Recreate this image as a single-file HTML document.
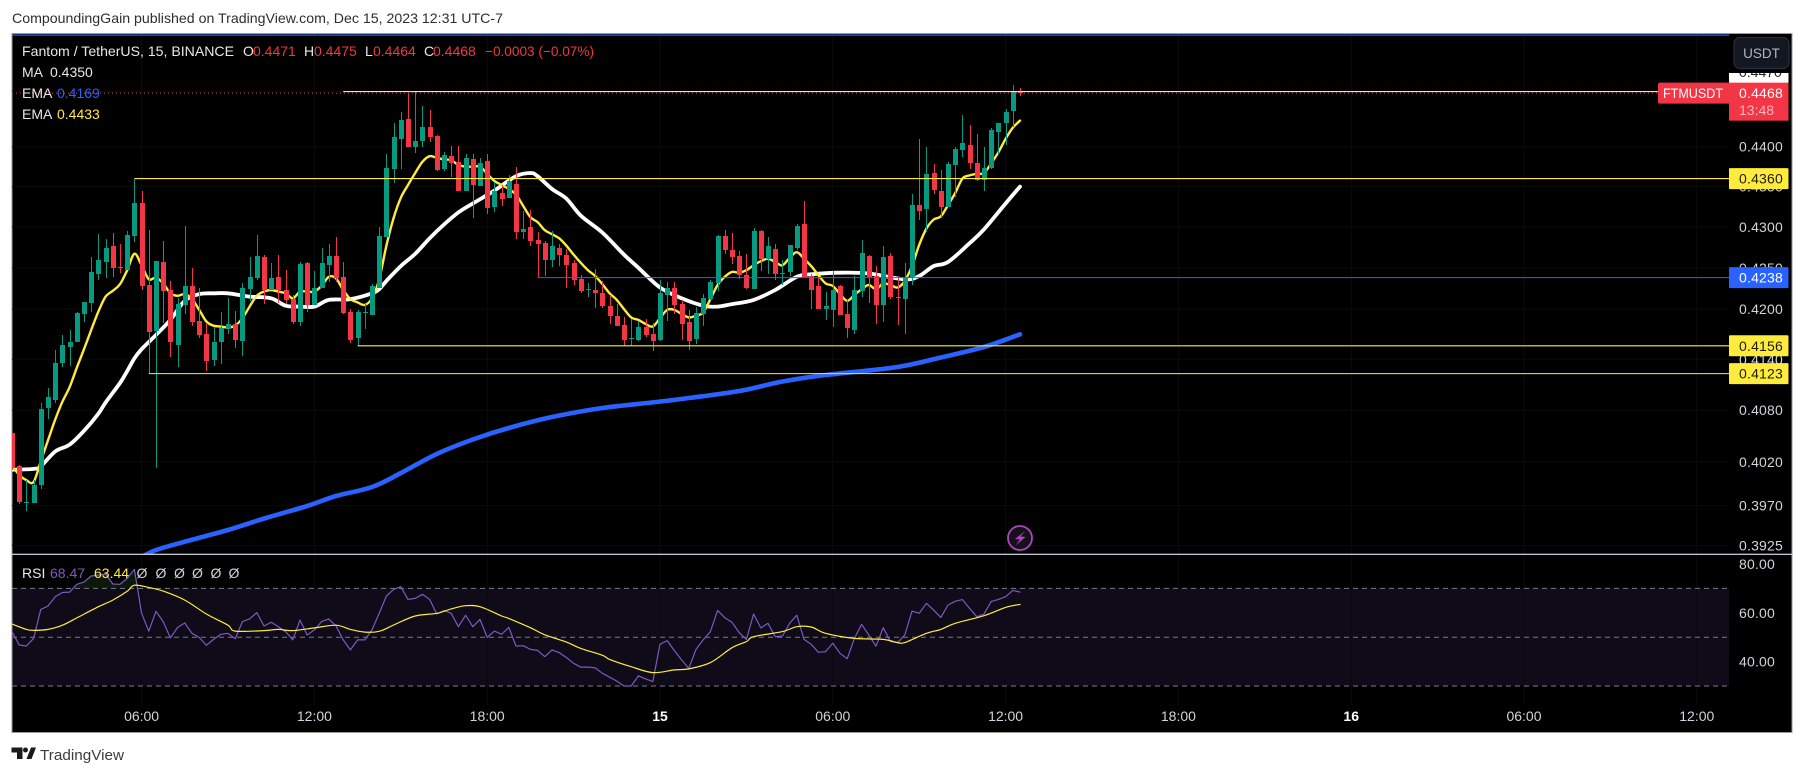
<!DOCTYPE html>
<html lang="en">
<head>
<meta charset="utf-8">
<title>FTMUSDT chart</title>
<style>
html,body{margin:0;padding:0;background:#fff;width:1805px;height:775px;overflow:hidden}
svg{display:block}
text{font-family:"Liberation Sans","DejaVu Sans",sans-serif;font-size:14px}
</style>
</head>
<body>
<svg id="chart" xmlns="http://www.w3.org/2000/svg" width="1805" height="775" viewBox="0 0 1805 775">
  <defs>
    <clipPath id="main-clip"><rect x="12" y="36" width="1717" height="518"/></clipPath>
    <clipPath id="rsi-clip"><rect x="12" y="555" width="1717" height="150"/></clipPath>
    <clipPath id="rsi-overbought-clip"><rect x="12" y="555" width="1717" height="33"/></clipPath>
    <clipPath id="top-tick-clip"><rect x="1729" y="73" width="60" height="10"/></clipPath>
  </defs>
  <rect x="0" y="0" width="1805" height="775" fill="#ffffff"/>
  <text x="12" y="23" fill="#2e2e2e" font-size="14" textLength="491" lengthAdjust="spacingAndGlyphs" style="font-size:14px">CompoundingGain published on TradingView.com, Dec 15, 2023 12:31 UTC-7</text>
  <rect x="12" y="33.5" width="1780" height="699" fill="#000000" stroke="#9a9a9a" stroke-width="1"/>
  <rect x="12.5" y="588" width="1716.5" height="98" fill="#0f0b18"/>
  <g id="grid"></g>
  <g id="main-pane" clip-path="url(#main-clip)"></g>
  <g id="rsi-pane" clip-path="url(#rsi-clip)"></g>
  <rect x="12.5" y="34.5" width="1716.5" height="1.2" fill="#2962ff"/>
  <rect x="12" y="553.7" width="1780" height="1.2" fill="#d8dae0"/>
  <g id="axis-labels"></g>

  <g>
    <text x="22" y="56" fill="#e8e8e8" textLength="212" lengthAdjust="spacingAndGlyphs">Fantom / TetherUS, 15, BINANCE</text>
    <text x="243" y="56" fill="#e8e8e8">O</text>
    <text x="253" y="56" fill="#f23645">0.4471</text>
    <text x="304" y="56" fill="#e8e8e8">H</text>
    <text x="314" y="56" fill="#f23645">0.4475</text>
    <text x="365" y="56" fill="#e8e8e8">L</text>
    <text x="373" y="56" fill="#f23645">0.4464</text>
    <text x="424" y="56" fill="#e8e8e8">C</text>
    <text x="433" y="56" fill="#f23645">0.4468</text>
    <text x="485" y="56" fill="#f23645" textLength="109" lengthAdjust="spacingAndGlyphs">−0.0003 (−0.07%)</text>
    <text x="22" y="77" fill="#e8e8e8">MA</text>
    <text x="50" y="77" fill="#e8e8e8">0.4350</text>
    <text x="22" y="98" fill="#e8e8e8">EMA</text>
    <text x="57" y="98" fill="#2962ff">0.4169</text>
    <text x="22" y="119" fill="#e8e8e8">EMA</text>
    <text x="57" y="119" fill="#ffeb3b">0.4433</text>
  </g>

  <g>
    <text x="22" y="578" fill="#e8e8e8">RSI</text>
    <text x="50" y="578" fill="#7e57c2">68.47</text>
    <text x="94" y="578" fill="#ffeb3b">63.44</text>
    <text x="142" y="578" fill="#d1d4dc" text-anchor="middle">Ø</text>
    <text x="161" y="578" fill="#d1d4dc" text-anchor="middle">Ø</text>
    <text x="179.5" y="578" fill="#d1d4dc" text-anchor="middle">Ø</text>
    <text x="197.5" y="578" fill="#d1d4dc" text-anchor="middle">Ø</text>
    <text x="216" y="578" fill="#d1d4dc" text-anchor="middle">Ø</text>
    <text x="234" y="578" fill="#d1d4dc" text-anchor="middle">Ø</text>
  </g>

  <g>
    <rect x="1734" y="37.5" width="55" height="31" rx="6" fill="#131722" stroke="#2a2e39" stroke-width="1.2"/>
    <text x="1761.5" y="58" fill="#b2b5be" text-anchor="middle" style="font-size:13.5px">USDT</text>
  </g>

  <g>
    <circle cx="1020" cy="538" r="12" fill="#15101c" stroke="#ab47bc" stroke-width="1.8"/>
    <path d="M1025 531 L1015 539 L1020 539.5 L1015.5 545.5 L1025.5 537 L1020.5 536.5 Z" fill="#ab47bc"/>
  </g>

  <g>
    <path d="M11.5 747.5 H22.5 V759 H17 V752.5 H11.5 Z M26.5 759 L31 747.5 H36 L31.5 759 Z" fill="#1a1a1a"/>
    <circle cx="25.5" cy="750" r="2.5" fill="#1a1a1a"/>
    <text x="40" y="760" fill="#3c3c3c" textLength="84" lengthAdjust="spacingAndGlyphs" style="font-size:15px">TradingView</text>
  </g>
</svg>

<script>
const opens=[0.4054,0.4015,0.3973,0.3973,0.3993,0.4083,0.4092,0.4136,0.4155,0.4160,0.4194,0.4207,0.4242,0.4257,0.4276,0.4251,0.4247,0.4289,0.4330,0.4229,0.4174,0.4257,0.4223,0.4157,0.4205,0.4228,0.4186,0.4170,0.4139,0.4161,0.4177,0.4182,0.4162,0.4224,0.4237,0.4263,0.4223,0.4239,0.4223,0.4212,0.4184,0.4256,0.4205,0.4226,0.4253,0.4264,0.4239,0.4196,0.4165,0.4195,0.4193,0.4226,0.4288,0.4372,0.4410,0.4435,0.4399,0.4407,0.4425,0.4414,0.4372,0.4388,0.4381,0.4344,0.4384,0.4351,0.4382,0.4325,0.4342,0.4336,0.4353,0.4294,0.4300,0.4284,0.4280,0.4260,0.4274,0.4266,0.4256,0.4236,0.4223,0.4223,0.4219,0.4204,0.4192,0.4181,0.4164,0.4163,0.4179,0.4170,0.4163,0.4217,0.4226,0.4206,0.4184,0.4164,0.4194,0.4212,0.4231,0.4289,0.4272,0.4264,0.4241,0.4224,0.4295,0.4261,0.4273,0.4243,0.4245,0.4274,0.4303,0.4240,0.4228,0.4200,0.4199,0.4228,0.4194,0.4175,0.4222,0.4264,0.4240,0.4205,0.4264,0.4215,0.4212,0.4239,0.4327,0.4322,0.4367,0.4345,0.4325,0.4377,0.4396,0.4402,0.4379,0.4358,0.4373,0.4419,0.4430,0.4445,0.4471];
const highs=[0.4054,0.4016,0.3999,0.3999,0.4089,0.4106,0.4151,0.4169,0.4175,0.4196,0.4209,0.4263,0.4291,0.4285,0.4292,0.4279,0.4295,0.4360,0.4345,0.4296,0.4258,0.4283,0.4234,0.4213,0.4301,0.4250,0.4225,0.4182,0.4178,0.4196,0.4213,0.4198,0.4231,0.4263,0.4290,0.4266,0.4256,0.4266,0.4247,0.4217,0.4257,0.4257,0.4246,0.4274,0.4279,0.4288,0.4257,0.4200,0.4199,0.4207,0.4230,0.4300,0.4391,0.4430,0.4444,0.4468,0.4471,0.4451,0.4446,0.4415,0.4393,0.4401,0.4401,0.4391,0.4391,0.4386,0.4391,0.4356,0.4352,0.4365,0.4375,0.4320,0.4321,0.4294,0.4283,0.4295,0.4279,0.4273,0.4260,0.4241,0.4231,0.4248,0.4234,0.4217,0.4206,0.4191,0.4188,0.4186,0.4188,0.4183,0.4235,0.4233,0.4233,0.4211,0.4199,0.4203,0.4218,0.4235,0.4290,0.4296,0.4292,0.4271,0.4267,0.4299,0.4296,0.4288,0.4279,0.4260,0.4278,0.4303,0.4332,0.4243,0.4239,0.4220,0.4246,0.4229,0.4211,0.4240,0.4284,0.4266,0.4252,0.4276,0.4268,0.4239,0.4256,0.4341,0.4410,0.4400,0.4378,0.4371,0.4381,0.4400,0.4440,0.4428,0.4416,0.4400,0.4424,0.4430,0.4448,0.4479,0.4475];
const lows=[0.4011,0.3972,0.3964,0.3973,0.3989,0.4070,0.4089,0.4131,0.4132,0.4160,0.4185,0.4196,0.4235,0.4238,0.4239,0.4244,0.4247,0.4281,0.4223,0.4123,0.4013,0.4183,0.4143,0.4131,0.4194,0.4180,0.4165,0.4126,0.4132,0.4134,0.4170,0.4153,0.4144,0.4210,0.4235,0.4206,0.4223,0.4207,0.4206,0.4182,0.4180,0.4196,0.4205,0.4226,0.4233,0.4233,0.4194,0.4159,0.4156,0.4176,0.4193,0.4226,0.4288,0.4354,0.4372,0.4399,0.4392,0.4399,0.4406,0.4369,0.4369,0.4362,0.4345,0.4344,0.4311,0.4351,0.4316,0.4319,0.4326,0.4336,0.4285,0.4285,0.4276,0.4237,0.4240,0.4251,0.4252,0.4225,0.4229,0.4219,0.4215,0.4201,0.4201,0.4182,0.4180,0.4156,0.4156,0.4162,0.4167,0.4150,0.4162,0.4186,0.4194,0.4163,0.4151,0.4158,0.4180,0.4211,0.4222,0.4267,0.4255,0.4236,0.4224,0.4224,0.4246,0.4242,0.4235,0.4229,0.4240,0.4272,0.4239,0.4200,0.4200,0.4187,0.4179,0.4193,0.4165,0.4170,0.4215,0.4207,0.4182,0.4185,0.4212,0.4181,0.4170,0.4229,0.4309,0.4294,0.4341,0.4311,0.4325,0.4337,0.4387,0.4372,0.4357,0.4345,0.4372,0.4391,0.4402,0.4425,0.4464];
const closes=[0.4013,0.3974,0.3974,0.3994,0.4082,0.4096,0.4136,0.4157,0.4161,0.4195,0.4209,0.4245,0.4260,0.4274,0.4250,0.4250,0.4290,0.4330,0.4228,0.4172,0.4258,0.4222,0.4160,0.4206,0.4228,0.4185,0.4169,0.4138,0.4161,0.4177,0.4182,0.4163,0.4226,0.4239,0.4264,0.4223,0.4237,0.4223,0.4211,0.4184,0.4255,0.4205,0.4226,0.4256,0.4264,0.4237,0.4195,0.4163,0.4196,0.4196,0.4228,0.4289,0.4373,0.4412,0.4434,0.4399,0.4407,0.4425,0.4412,0.4371,0.4390,0.4379,0.4345,0.4386,0.4352,0.4379,0.4323,0.4344,0.4334,0.4357,0.4294,0.4297,0.4283,0.4279,0.4260,0.4276,0.4266,0.4253,0.4235,0.4222,0.4224,0.4219,0.4204,0.4192,0.4180,0.4163,0.4165,0.4179,0.4169,0.4162,0.4219,0.4226,0.4205,0.4182,0.4162,0.4195,0.4213,0.4233,0.4289,0.4272,0.4263,0.4241,0.4226,0.4295,0.4261,0.4276,0.4242,0.4244,0.4278,0.4301,0.4239,0.4223,0.4200,0.4204,0.4223,0.4193,0.4177,0.4223,0.4268,0.4239,0.4205,0.4263,0.4215,0.4214,0.4239,0.4327,0.4320,0.4366,0.4346,0.4325,0.4378,0.4397,0.4405,0.4379,0.4358,0.4373,0.4421,0.4430,0.4444,0.4471,0.4468];
const emaFast=[0.4016,0.4005,0.3999,0.3997,0.4021,0.4045,0.4069,0.4090,0.4107,0.4130,0.4152,0.4175,0.4197,0.4215,0.4222,0.4230,0.4247,0.4267,0.4253,0.4236,0.4238,0.4231,0.4219,0.4216,0.4218,0.4212,0.4199,0.4185,0.4180,0.4179,0.4178,0.4180,0.4189,0.4203,0.4216,0.4221,0.4223,0.4221,0.4219,0.4213,0.4221,0.4221,0.4221,0.4228,0.4239,0.4237,0.4223,0.4212,0.4208,0.4205,0.4213,0.4236,0.4277,0.4311,0.4336,0.4352,0.4367,0.4381,0.4388,0.4386,0.4384,0.4383,0.4377,0.4375,0.4375,0.4375,0.4366,0.4357,0.4352,0.4347,0.4340,0.4326,0.4312,0.4306,0.4296,0.4291,0.4286,0.4277,0.4266,0.4256,0.4247,0.4240,0.4230,0.4219,0.4211,0.4200,0.4190,0.4187,0.4182,0.4179,0.4189,0.4199,0.4199,0.4194,0.4190,0.4192,0.4196,0.4212,0.4229,0.4239,0.4245,0.4244,0.4247,0.4253,0.4258,0.4261,0.4257,0.4253,0.4262,0.4269,0.4261,0.4252,0.4241,0.4231,0.4228,0.4218,0.4210,0.4217,0.4224,0.4229,0.4224,0.4231,0.4229,0.4226,0.4234,0.4252,0.4278,0.4298,0.4309,0.4313,0.4327,0.4342,0.4360,0.4364,0.4366,0.4367,0.4379,0.4393,0.4410,0.4424,0.4433];
const maBars=[0,3,4,6,8,10,12,13,15,16,17,18,20,22,24,26,28,30,33,36,38,40,42,44,47,50,51,52,54,56,58,60,62,64,67,70,72,73,75,77,79,82,85,87,90,93,96,98,100,103,106,109,111,115,119,124,126,128,130,133,135,138,140];
const maValues=[0.4011,0.4012,0.4015,0.4032,0.4040,0.4056,0.4076,0.4089,0.4112,0.4126,0.4141,0.4152,0.4169,0.4187,0.4210,0.4218,0.4219,0.4219,0.4215,0.4213,0.4204,0.4203,0.4203,0.4211,0.4212,0.4219,0.4224,0.4234,0.4252,0.4267,0.4286,0.4303,0.4318,0.4329,0.4345,0.4363,0.4367,0.4363,0.4347,0.4335,0.4314,0.4293,0.4266,0.4250,0.4226,0.4213,0.4204,0.4203,0.4206,0.4211,0.4223,0.4239,0.4242,0.4244,0.4243,0.4236,0.4240,0.4252,0.4257,0.4280,0.4297,0.4329,0.4350];
const emaSlowBars=[18,20,24,30,35,41,45,50,54,59,64,69,75,82,89,94,101,107,113,123,129,135,140];
const emaSlowValues=[0.39120,0.39198,0.39292,0.39424,0.39553,0.39696,0.39809,0.39912,0.40072,0.40292,0.40459,0.40593,0.40721,0.40826,0.40891,0.40943,0.41025,0.41137,0.41214,0.41309,0.41421,0.41546,0.41697];
const rsiValues=[52.3,46.8,46.4,49.5,61.4,62.8,66.6,68.3,68.5,71.7,72.6,75.1,75.5,75.9,71.8,71.7,74.1,77.8,59.8,52.5,60.6,56.4,49.7,54.0,55.8,51.6,49.9,46.7,49.1,51.2,51.6,49.4,56.4,57.5,60.1,54.6,56.1,54.3,52.3,48.9,57.0,50.9,53.0,56.4,57.5,54.6,48.9,44.8,48.9,48.9,53.0,59.8,66.9,69.6,70.7,65.5,65.9,67.6,65.5,59.5,60.9,59.8,54.3,59.0,54.3,57.3,49.9,52.5,51.2,54.0,46.4,46.5,45.0,44.6,42.0,44.8,43.7,41.7,39.3,37.7,37.8,37.4,35.2,33.6,32.0,30.0,30.0,34.2,32.9,31.8,47.1,48.6,44.5,40.7,37.2,45.0,48.9,52.3,61.0,58.0,56.1,51.9,49.1,59.5,53.8,55.7,50.2,50.5,55.7,59.0,49.1,47.1,43.8,44.1,47.6,43.4,41.2,49.5,55.3,50.9,46.3,53.9,48.2,47.8,50.9,60.7,59.8,63.9,61.1,58.1,63.2,64.7,65.4,61.8,58.4,59.5,64.6,65.5,66.6,69.2,68.47];
const rsiMaBars=[0,2,3,5,7,9,12,14,16,17,19,21,24,27,30,31,35,37,39,42,45,47,49,51,53,56,59,61,63,65,68,69,72,74,77,79,82,83,86,89,92,94,97,100,102,103,107,109,111,113,117,121,123,124,127,129,131,135,138,140];
const rsiMaValues=[55.4,53.2,52.8,53.2,54.9,57.9,62.5,65.2,68.8,71.3,70.4,68.9,65.2,59.5,54.9,52.5,52.7,53.2,52.7,53.8,54.9,53.2,52.1,52.4,55.0,58.7,59.8,61.6,62.9,62.5,58.7,57.7,53.9,51.0,48.0,45.4,42.6,40.9,37.9,35.5,36.6,37.0,39.6,45.7,48.2,50.2,52.3,54.3,54.2,51.6,49.5,49.1,47.8,47.8,51.6,53.2,55.7,58.8,62.2,63.44];
const priceTickValues=[0.4470,0.4400,0.4350,0.4300,0.4250,0.4200,0.4140,0.4080,0.4020,0.3970,0.3925];
const priceTickLabels=["0.4470","0.4400","0.4350","0.4300","0.4250","0.4200","0.4140","0.4080","0.4020","0.3970","0.3925"];
const rsiTickValues=[80,60,40];
const rsiTickLabels=["80.00","60.00","40.00"];
const rsiGuideValues=[70,50,30];
const timeTickBars=[18,42,66,90,114,138,162,186,210,234];
const timeTickLabels=["06:00","12:00","18:00","15","06:00","12:00","18:00","16","06:00","12:00"];
const timeTickMajor=[false,false,false,true,false,false,false,true,false,false];
const levelPrices=[0.4360,0.4238,0.4156,0.4123];
const levelLabels=["0.4360","0.4238","0.4156","0.4123"];
const levelStartBars=[17,73,48,19];
const levelColors=["#ffeb3b","#2962ff","#ffeb3b","#ffeb3b"];
const levelTextColors=["#1c1c14","#ffffff","#1c1c14","#1c1c14"];
const lastPrice=0.4468;
const resistanceStartBar=46;
const resistancePrice=0.4470;

const NS='http://www.w3.org/2000/svg';
const xOf=i=>12+7.2*i;
const yOf=p=>146.7+3490*Math.log(0.44/p);
const yRsi=v=>686-(v-30)*2.44;
const mainPane=document.getElementById('main-pane');
const rsiPane=document.getElementById('rsi-pane');
const gridLayer=document.getElementById('grid');
const axisLayer=document.getElementById('axis-labels');

function mk(tag,attrs,parent,txt){
  const el=document.createElementNS(NS,tag);
  for(const k in attrs)el.setAttribute(k,attrs[k]);
  if(txt!==undefined)el.textContent=txt;
  parent.appendChild(el);
  return el;
}

/* grid */
timeTickBars.forEach(b=>{
  const g=mk('line',{x1:xOf(b),x2:xOf(b),y1:36,y2:705,stroke:'#0b0b0b','stroke-width':1},gridLayer);
  
  
});
priceTickValues.forEach(p=>{
  const g=mk('line',{x1:12,x2:1729,y1:yOf(p),y2:yOf(p),stroke:'#0b0b0b','stroke-width':1},gridLayer);
  
  
});

function seriesPoints(bars,vals,yFn){
  return vals.map((v,k)=>[xOf(bars?bars[k]:k),yFn(v)]);
}
function polyline(bars,vals,yFn,color,width,parent){
  const pts=seriesPoints(bars,vals,yFn).map(p=>p[0].toFixed(1)+','+p[1].toFixed(1)).join(' ');
  return mk('polyline',{points:pts,fill:'none',stroke:color,'stroke-width':width,'stroke-linejoin':'round','stroke-linecap':'round'},parent);
}
function smoothLine(bars,vals,yFn,color,width,parent){
  const pts=seriesPoints(bars,vals,yFn);
  let d='M'+pts[0][0].toFixed(1)+' '+pts[0][1].toFixed(1);
  for(let i=0;i<pts.length-1;i++){
    const p0=pts[i-1]||pts[i],p1=pts[i],p2=pts[i+1],p3=pts[i+2]||pts[i+1];
    const c1x=p1[0]+(p2[0]-p0[0])/6,c1y=p1[1]+(p2[1]-p0[1])/6;
    const c2x=p2[0]-(p3[0]-p1[0])/6,c2y=p2[1]-(p3[1]-p1[1])/6;
    d+=' C'+c1x.toFixed(1)+' '+c1y.toFixed(1)+' '+c2x.toFixed(1)+' '+c2y.toFixed(1)+' '+p2[0].toFixed(1)+' '+p2[1].toFixed(1);
  }
  return mk('path',{d:d,fill:'none',stroke:color,'stroke-width':width,'stroke-linejoin':'round','stroke-linecap':'round'},parent);
}

/* moving averages */
const emaSlowLine=smoothLine(emaSlowBars,emaSlowValues,yOf,'#2962ff',4.6,mainPane);


const maLine=smoothLine(maBars,maValues,yOf,'#ffffff',3.8,mainPane);


const emaFastLine=smoothLine(null,emaFast,yOf,'#ffeb3b',2.4,mainPane);



/* candles */
opens.forEach((o,i)=>{
  const c=closes[i];
  const up=c>=o;
  const color=up?'#089981':'#f23645';
  const x=Math.round(xOf(i));
  const top=Math.round(yOf(Math.max(o,c)));
  const bot=Math.round(yOf(Math.min(o,c)));
  const hi=Math.round(yOf(highs[i]));
  const lo=Math.round(yOf(lows[i]));
  const g=mk('g',{},mainPane);
  
  
  const w=mk('rect',{x:x,y:hi,width:1,height:Math.max(1,lo-hi),fill:color},g);
  
  
  const b=mk('rect',{x:x-2,y:top,width:5,height:Math.max(1,bot-top),fill:color},g);
  
  
});

/* last-price dotted line and drawn levels */
const lastLine=mk('line',{x1:12,x2:1658,y1:yOf(lastPrice),y2:yOf(lastPrice),stroke:'#f23645','stroke-width':1,'stroke-dasharray':'1 3'},mainPane);


const resistanceLine=mk('line',{x1:xOf(resistanceStartBar),x2:1729,y1:yOf(resistancePrice),y2:yOf(resistancePrice),stroke:'#ffffff','stroke-width':1},mainPane);


levelPrices.forEach((p,k)=>{
  const l=mk('line',{x1:xOf(levelStartBars[k]),x2:1729,y1:yOf(p),y2:yOf(p),stroke:levelColors[k],'stroke-width':1.1},mainPane);
  
  
});

/* RSI pane */
const rsiAreaPts=seriesPoints(null,rsiValues,yRsi);
const rsiAreaD='M'+xOf(0)+' 588 L'+rsiAreaPts.map(p=>p[0].toFixed(1)+' '+p[1].toFixed(1)).join(' L')+' L'+xOf(rsiValues.length-1)+' 588 Z';
const rsiArea=mk('path',{d:rsiAreaD,fill:'#4caf50','fill-opacity':0.14,'clip-path':'url(#rsi-overbought-clip)'},rsiPane);


rsiGuideValues.forEach(v=>{
  const l=mk('line',{x1:12,x2:1729,y1:yRsi(v),y2:yRsi(v),stroke:'#787b86','stroke-width':1,'stroke-dasharray':'5 4'},rsiPane);
  
  
});
const rsiLine=polyline(null,rsiValues,yRsi,'#7e57c2',1.2,rsiPane);


const rsiMaLine=smoothLine(rsiMaBars,rsiMaValues,yRsi,'#ffeb3b',1.2,rsiPane);



/* price axis */
const tickFill='#d1d4dc';
priceTickValues.forEach((p,k)=>{
  const t=mk('text',{x:1739,y:yOf(p)+5,fill:tickFill},axisLayer,priceTickLabels[k]);
  
  
  t.style.letterSpacing='0.2px';
});
rsiTickValues.forEach((v,k)=>{
  const t=mk('text',{x:1739,y:yRsi(v)+5,fill:tickFill},axisLayer,rsiTickLabels[k]);
  
  
  t.style.letterSpacing='0.2px';
});

/* time axis */
timeTickBars.forEach((b,k)=>{
  const t=mk('text',{x:xOf(b),y:721,fill:timeTickMajor[k]?'#ffffff':'#d1d4dc','text-anchor':'middle','font-weight':timeTickMajor[k]?'700':'400'},axisLayer,timeTickLabels[k]);
  
  
});

/* top clipped label */
const topBox=mk('rect',{x:1729,y:73,width:59.5,height:12,fill:'#ffffff'},axisLayer);


const topText=mk('text',{x:1739,y:77,fill:'#222222','clip-path':'url(#top-tick-clip)'},axisLayer,'0.4470');



/* level labels */
levelPrices.forEach((p,k)=>{
  const y=yOf(p);
  const b=mk('rect',{x:1729,y:y-10.5,width:59.5,height:21,fill:levelColors[k],rx:1},axisLayer);
  
  
  const t=mk('text',{x:1739,y:y+5,fill:levelTextColors[k]},axisLayer,levelLabels[k]);
  
  
  t.style.letterSpacing='0.2px';
});

/* last price tag */
const tagY=yOf(lastPrice);
const symTag=mk('rect',{x:1658,y:tagY-10.5,width:73,height:21,rx:2,fill:'#f23645'},axisLayer);


const symText=mk('text',{x:1663,y:tagY+5,fill:'#ffffff',textLength:60,lengthAdjust:'spacingAndGlyphs'},axisLayer,'FTMUSDT');


const priceTag=mk('rect',{x:1729,y:tagY-10.5,width:59.5,height:38,fill:'#f23645'},axisLayer);


const priceText=mk('text',{x:1739,y:tagY+5,fill:'#ffffff'},axisLayer,'0.4468');


priceText.style.letterSpacing='0.2px';
const countdown=mk('text',{x:1739,y:tagY+22,fill:'#fbb6bc'},axisLayer,'13:48');


</script>
</body>
</html>
